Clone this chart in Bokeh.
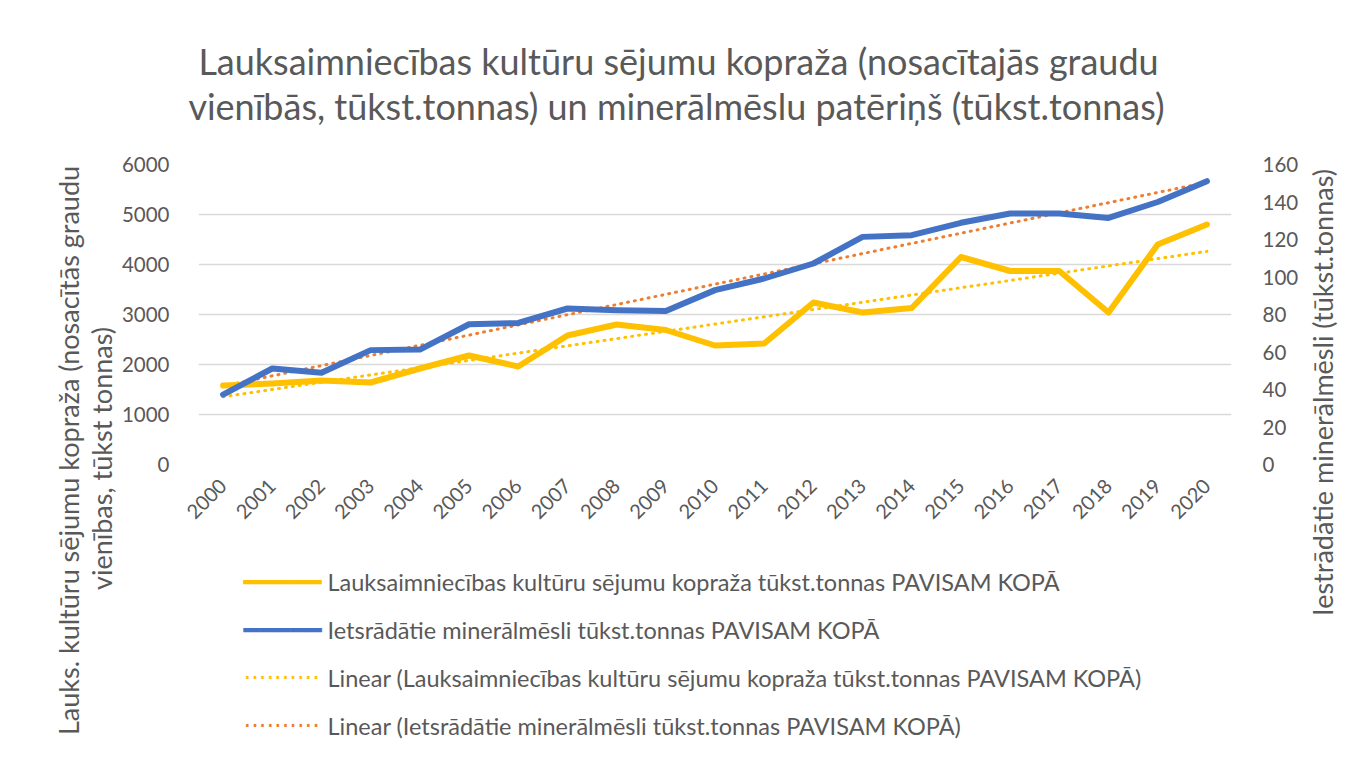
import math
import numpy as np
from bokeh.plotting import figure
from bokeh.models import FactorRange, Range1d, LinearAxis, FixedTicker, Label
from bokeh.embed import file_html
from bokeh.resources import INLINE

years = [str(y) for y in range(2000, 2021)]
crop_yield = [1580, 1620, 1680, 1640, 1920, 2180, 1960, 2580, 2800, 2690, 2380,
              2420, 3240, 3040, 3130, 4150, 3870, 3870, 3040, 4400, 4800]
fertilizer = [37.3, 51.2, 48.9, 61.0, 61.3, 74.8, 75.5, 83.2, 82.3, 81.9, 93.0,
              99.2, 107.2, 121.4, 122.3, 128.9, 133.9, 133.9, 131.5, 140.0, 151.1]
left_ticks = [0, 1000, 2000, 3000, 4000, 5000, 6000]
right_ticks = [0, 20, 40, 60, 80, 100, 120, 140, 160]

title_lines = ["Lauksaimniecības kultūru sējumu kopraža (nosacītajās graudu",
               "vienībās, tūkst.tonnas) un minerālmēslu patēriņš (tūkst.tonnas)"]
left_label_lines = ["Lauks. kultūru sējumu kopraža (nosacītās graudu",
                    "vienības, tūkst tonnas)"]
right_label = "Iestrādātie minerālmēsli (tūkst.tonnas)"
legend_labels = ["Lauksaimniecības kultūru sējumu kopraža tūkst.tonnas PAVISAM KOPĀ",
                 "Ietsrādātie minerālmēsli tūkst.tonnas PAVISAM KOPĀ",
                 "Linear (Lauksaimniecības kultūru sējumu kopraža tūkst.tonnas PAVISAM KOPĀ)",
                 "Linear (Ietsrādātie minerālmēsli tūkst.tonnas PAVISAM KOPĀ)"]

# linear trend lines (least squares, as the spreadsheet's trendline)
idx = np.arange(len(years))
c1 = np.polyfit(idx, crop_yield, 1)
c2 = np.polyfit(idx, fertilizer, 1)
trend_yield = list(np.polyval(c1, idx))
trend_fert = list(np.polyval(c2, idx))

FONT = "Lato"
GRAY = "#595959"
YEL = "#FFC000"
BLUE = "#4472C4"
ORANGE = "#ED7D31"

p = figure(frame_width=1033, frame_height=300,
           x_range=FactorRange(*years, range_padding=0),
           y_range=Range1d(0, 6000), output_backend="svg", toolbar_location=None,
           title=None,
           min_border_left=198, min_border_right=129, min_border_top=164,
           min_border_bottom=0)
p.extra_y_ranges = {"right": Range1d(0, 160)}
p.outline_line_color = None
p.background_fill_color = "white"
p.border_fill_color = "white"

p.xgrid.grid_line_color = None
p.ygrid.grid_line_color = "#D9D9D9"
p.ygrid.grid_line_width = 1.5
p.ygrid.ticker = FixedTicker(ticks=left_ticks)

ax = p.xaxis[0]
ax.axis_line_color = None
ax.major_tick_line_color = None
ax.minor_tick_line_color = None
ax.major_label_orientation = math.pi / 4
ax.major_label_text_font = FONT
ax.major_label_text_font_size = "20px"
ax.major_label_text_color = GRAY
ax.major_label_standoff = 12

ay = p.yaxis[0]
ay.ticker = FixedTicker(ticks=left_ticks)
ay.axis_line_color = None
ay.major_tick_line_color = None
ay.minor_tick_line_color = None
ay.major_label_text_font = FONT
ay.major_label_text_font_size = "20.5px"
ay.major_label_text_color = GRAY
ay.major_label_standoff = 23

ry = LinearAxis(y_range_name="right", ticker=FixedTicker(ticks=right_ticks))
ry.axis_line_color = None
ry.major_tick_line_color = None
ry.minor_tick_line_color = None
ry.major_label_text_font = FONT
ry.major_label_text_font_size = "20.5px"
ry.major_label_text_color = GRAY
ry.major_label_standoff = 25
p.add_layout(ry, "right")

p.line(years, trend_yield, line_color=YEL, line_width=3, line_dash="1 6",
       line_cap="round")
p.line(years, trend_fert, line_color=ORANGE, line_width=3, line_dash="1 6",
       line_cap="round", y_range_name="right")
p.line(years, crop_yield, line_color=YEL, line_width=6, line_join="round",
       line_cap="round")
p.line(years, fertilizer, line_color=BLUE, line_width=6, line_join="round",
       line_cap="round", y_range_name="right")

# legend (keys + texts) below the chart, placed in canvas pixels
legend_rows = [581, 629, 677, 725]
key_texts = ["━━━━━", "━━━━━", "··········", "··········"]
key_colors = [YEL, BLUE, YEL, ORANGE]
key_sizes = ["26px", "26px", "24px", "24px"]
for i in range(4):
    p.add_layout(Label(x=243, y=legend_rows[i], x_units="canvas", y_units="canvas",
                       text=key_texts[i], text_align="left", text_baseline="middle",
                       text_font="DejaVu Sans", text_font_size=key_sizes[i],
                       text_color=key_colors[i]), "below")
    p.add_layout(Label(x=327, y=legend_rows[i], x_units="canvas", y_units="canvas",
                       text=legend_labels[i], text_align="left",
                       text_baseline="middle", text_font=FONT,
                       text_font_size="23.5px", text_color=GRAY), "below")

for i, t in enumerate(title_lines):
    p.add_layout(Label(x=[678, 676][i], y=[60, 105][i], x_units="canvas",
                       y_units="canvas", text=t, text_align="center",
                       text_baseline="middle", text_font=FONT,
                       text_font_size="36px", text_color=GRAY), "above")

for i, t in enumerate(left_label_lines):
    p.add_layout(Label(x=[68, 101][i], y=[450, 458][i], x_units="canvas",
                       y_units="canvas", text=t, angle=math.pi / 2,
                       text_align="center", text_baseline="middle", text_font=FONT,
                       text_font_size="27px", text_color=GRAY), "left")

p.add_layout(Label(x=1322, y=392, x_units="canvas", y_units="canvas",
                   text=right_label, angle=math.pi / 2, text_align="center",
                   text_baseline="middle", text_font=FONT, text_font_size="27px",
                   text_color=GRAY), "right")

open("out.html", "w").write(file_html(p, INLINE))
